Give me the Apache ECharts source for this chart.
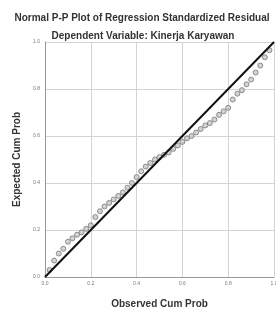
<!DOCTYPE html>
<html>
<head>
<meta charset="utf-8">
<script src="https://cdn.jsdelivr.net/npm/echarts@6/dist/echarts.min.js"></script>
<style>
  html, body { margin: 0; padding: 0; background: #fff; }
  #chart { width: 276px; height: 309px; }
</style>
</head>
<body>
<div id="chart"></div>
<script>
const titleText = 'Normal P-P Plot of Regression Standardized Residual'
const subtitleText = 'Dependent Variable: Kinerja Karyawan'
const xName = 'Observed Cum Prob'
const yName = 'Expected Cum Prob'

const observed = [0.02, 0.04, 0.06, 0.08, 0.10, 0.12, 0.14, 0.16, 0.18, 0.20,
  0.22, 0.24, 0.26, 0.28, 0.30, 0.32, 0.34, 0.36, 0.38, 0.40,
  0.42, 0.44, 0.46, 0.48, 0.50, 0.52, 0.54, 0.56, 0.58, 0.60,
  0.62, 0.64, 0.66, 0.68, 0.70, 0.72, 0.74, 0.76, 0.78, 0.80,
  0.82, 0.84, 0.86, 0.88, 0.90, 0.92, 0.94, 0.96, 0.98]
const expected = [0.03, 0.07, 0.10, 0.12, 0.15, 0.165, 0.18, 0.19, 0.205, 0.22,
  0.255, 0.28, 0.30, 0.315, 0.33, 0.345, 0.36, 0.38, 0.40, 0.425,
  0.45, 0.47, 0.485, 0.50, 0.51, 0.52, 0.53, 0.545, 0.56, 0.575,
  0.59, 0.60, 0.615, 0.63, 0.645, 0.655, 0.67, 0.69, 0.705, 0.72,
  0.755, 0.78, 0.795, 0.82, 0.84, 0.87, 0.90, 0.935, 0.965]
const refLine = [[0, 0], [1, 1]]

const chart = echarts.init(document.getElementById('chart'))
const font = 'Liberation Sans, Arial, sans-serif'

chart.setOption({
  animation: false,
  backgroundColor: '#fff',
  title: [
    { text: titleText, left: 137, top: 8, textAlign: 'center',
      textStyle: { fontSize: 10, fontWeight: 'bold', color: '#333', fontFamily: font } },
    { text: subtitleText, left: 138, top: 26, textAlign: 'center',
      textStyle: { fontSize: 10, fontWeight: 'bold', color: '#333', fontFamily: font } }
  ],
  grid: { left: 45, right: 2, top: 42, bottom: 32, outerBoundsMode: 'none' },
  xAxis: {
    type: 'value', min: 0, max: 1, interval: 0.2,
    name: xName, nameLocation: 'middle', nameGap: 22,
    nameTextStyle: { fontSize: 10, fontWeight: 'bold', color: '#333', fontFamily: font },
    axisLine: { lineStyle: { color: '#999' } },
    axisTick: { show: false },
    axisLabel: { fontSize: 5, color: '#777', margin: 4, formatter: v => v.toFixed(1) },
    splitLine: { lineStyle: { color: '#d4d4d4' } }
  },
  yAxis: {
    type: 'value', min: 0, max: 1, interval: 0.2,
    name: yName, nameLocation: 'middle', nameGap: 22,
    nameTextStyle: { fontSize: 10, fontWeight: 'bold', color: '#333', fontFamily: font },
    axisLine: { show: true, lineStyle: { color: '#999' } },
    axisTick: { show: false },
    axisLabel: { fontSize: 5, color: '#777', margin: 5, formatter: v => v.toFixed(1) },
    splitLine: { lineStyle: { color: '#d4d4d4' } }
  },
  series: [
    {
      type: 'scatter',
      data: observed.map((x, i) => [x, expected[i]]),
      symbol: 'circle', symbolSize: 5,
      itemStyle: { color: '#c8c8c8', borderColor: '#777', borderWidth: 1 },
      z: 2
    },
    {
      type: 'line',
      data: refLine,
      showSymbol: false,
      lineStyle: { color: '#111', width: 2 },
      z: 3
    }
  ]
})
</script>
</body>
</html>
